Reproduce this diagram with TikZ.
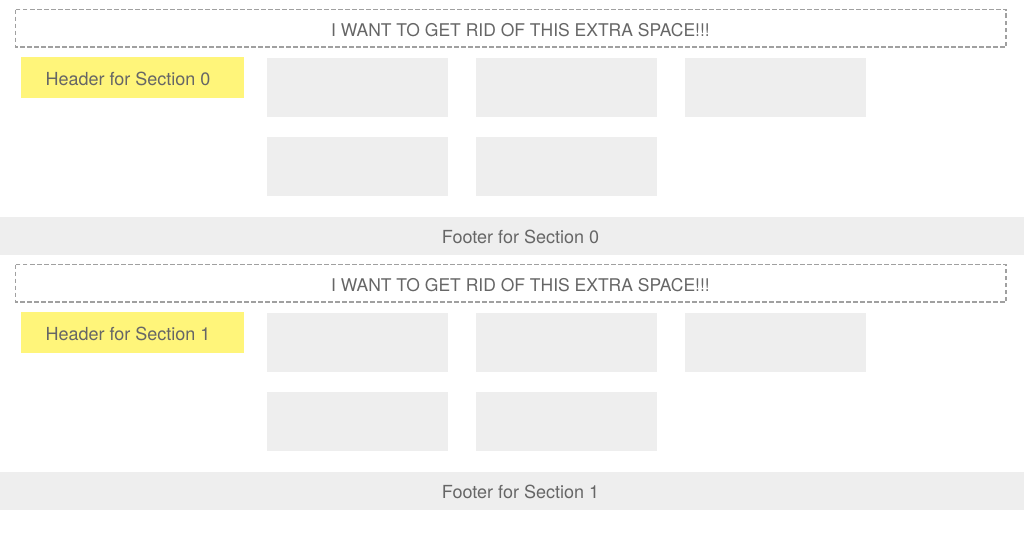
\documentclass[tikz,border=0pt]{standalone}
\usepackage{fontspec}
\setmainfont{TeX Gyre Heros}
\definecolor{txt}{HTML}{666666}
\definecolor{cellgray}{HTML}{EEEEEE}
\definecolor{hdryellow}{HTML}{FFF57A}
\definecolor{dashgray}{HTML}{A0A0A0}
\begin{document}
\begin{tikzpicture}[x=1pt,y=-1pt,
  txtstyle/.style={text=txt,font=\fontsize{18}{21}\selectfont},
  extratxt/.style={text=txt,font=\fontsize{17.5}{21}\selectfont},
  extrabox/.style={draw=dashgray,line width=1.8pt,dash pattern=on 4.5pt off 2.5pt},
  hdrbox/.style={fill=hdryellow},
  cell/.style={fill=cellgray},
  footbox/.style={fill=cellgray}]
\useasboundingbox (0,0) rectangle (1024,554);
\fill[white] (0,0) rectangle (1024,554);
\foreach \s/\o in {0/0,1/255}{
  \begin{scope}[yshift=-\o pt]
  \draw[extrabox] (15.5,9.5) rectangle (1006,47);
  \node[extratxt] (extra\s) at (520.5,30) {I WANT TO GET RID OF THIS EXTRA SPACE!!!};
  \fill[hdrbox] (21,57) rectangle (244,98);
  \node[txtstyle] (hdr\s) at (128,78.5) {Header for Section \s};
  \fill[cell] (267,58) rectangle (448,117);
  \fill[cell] (476,58) rectangle (657,117);
  \fill[cell] (685,58) rectangle (866,117);
  \fill[cell] (267,137) rectangle (448,196);
  \fill[cell] (476,137) rectangle (657,196);
  \fill[footbox] (0,217) rectangle (1024,255);
  \node[txtstyle] (foot\s) at (520.5,236.5) {Footer for Section \s};
  \end{scope}
}
\end{tikzpicture}
\end{document}
